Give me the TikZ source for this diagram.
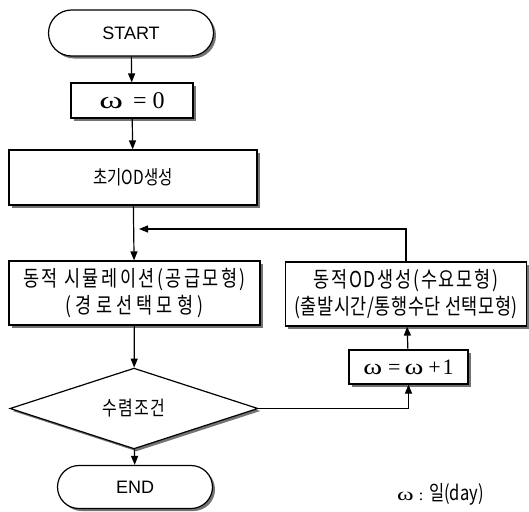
\documentclass[tikz,border=0pt]{standalone}
\usepackage{fontspec}
\usepackage{graphicx}
\setmainfont{Liberation Sans}
\newfontfamily\kr{Noto Sans CJK KR}
\newfontfamily\tms{Liberation Serif}
\usetikzlibrary{shapes.misc,shapes.geometric,shadows,arrows.meta}
\newcommand{\wom}[1]{\scalebox{#1}[1]{ω}}
\newcommand{\kline}[3]{\scalebox{1}[1.25]{\kr\fontsize{#1}{#1}\selectfont\addfontfeatures{LetterSpace=#2}#3}}
\tikzset{
  base/.style={draw=black, line width=1.2pt, fill=white, inner sep=0pt,
    drop shadow={shadow xshift=2.5pt, shadow yshift=-2.5pt, fill=black!55, opacity=1}},
  terminal/.style={base, rounded rectangle, font=\fontsize{18}{18}\selectfont},
  procbox/.style={base, rectangle, align=center},
  decbox/.style={base, diamond},
  arr/.style={line width=1.2pt, -{Triangle[length=9pt,width=7pt]}},
  ln/.style={line width=1.2pt}
}
\begin{document}
\begin{tikzpicture}[x=1pt,y=-1pt]
\useasboundingbox (0,0) rectangle (529,511);
\node[terminal, minimum width=165, minimum height=46] (start) at (131,33) {START};
\node[procbox, minimum width=122, minimum height=35] (w0) at (132,100.5)
  {\tms\fontsize{24}{24}\selectfont \wom{1.5}\hspace{10pt}=\hspace{6pt}0};
\node[procbox, minimum width=248, minimum height=55] (init) at (133,177.5)
  {\kline{15.5}{0}{초기OD생성}};
\node[procbox, minimum width=251, minimum height=64] (sim) at (134.5,293)
  {\kline{17.5}{14}{동적 시뮬레이션(공급모형)}\\[3pt]
   \kline{17.5}{24}{(경로선택모형)}};
\node[decbox, minimum width=248, minimum height=53] (cond) at (134,408.5)
  {\kline{16}{8}{수렴조건}};
\node[terminal, minimum width=155, minimum height=43] (end) at (135,487) {END};
\node[procbox, minimum width=241, minimum height=64] (dyn) at (406,294)
  {\kline{17.5}{10}{동적OD생성(수요모형)}\\[3pt]
   \kline{17.5}{3}{(출발시간/통행수단 선택모형)}};
\node[procbox, minimum width=119, minimum height=34] (inc) at (408.5,367)
  {\tms\fontsize{22}{22}\selectfont \wom{1.3}\hspace{6pt}=\hspace{4pt}\wom{1.3}\hspace{5pt}+\hspace{2pt}1};
\node[anchor=west, inner sep=0pt] (note) at (397,494)
  {\tms\fontsize{18}{18}\selectfont\wom{1.4}\hspace{5pt}{\fontsize{16}{16}\selectfont :}\hspace{6pt}\kline{16.5}{0}{일(day)}};
\coordinate (fb) at (139,229);
\draw[arr] (start) -- (w0);
\draw[arr] (w0) -- (init);
\draw[arr] (init) -- (sim);
\draw[arr] (sim) -- (cond);
\draw[arr] (cond) -- (end);
\draw[arr] (cond.east) -| (inc.south);
\draw[arr] (inc) -- (dyn);
\draw[arr] (dyn.north) |- (fb);
\end{tikzpicture}
\end{document}
